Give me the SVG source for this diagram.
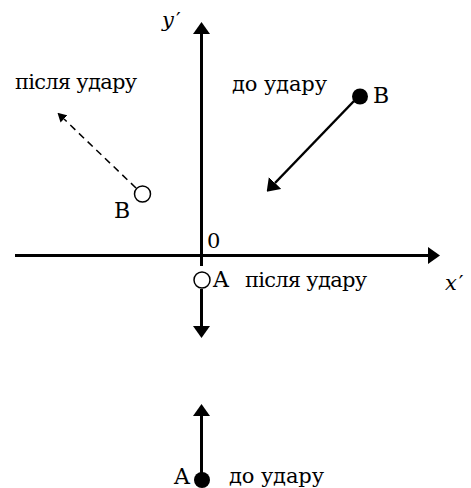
<svg xmlns="http://www.w3.org/2000/svg" width="471" height="488" viewBox="0 0 471 488">
<style>
text{font-family:"DejaVu Serif","Liberation Serif",serif;font-size:21px;fill:#000}
.cap{font-size:22px}
.ax{stroke:#000;stroke-width:3;fill:none}
.v{stroke:#000;stroke-width:2.5;fill:none}
.d{stroke:#000;stroke-width:1.5;fill:none;stroke-dasharray:7,5}
.open{fill:#fff;stroke:#000;stroke-width:1.5}
.fill{fill:#000}
.it{font-style:italic}
.pr{font-style:normal}
</style>
<defs>
<marker id="ah" markerUnits="userSpaceOnUse" markerWidth="12" markerHeight="18" refX="0" refY="8.5" orient="auto" viewBox="0 0 12 17">
<path d="M0,0 L12,8.5 L0,17 Z" fill="#000"/>
</marker>
<marker id="ahs" markerUnits="userSpaceOnUse" markerWidth="9" markerHeight="10" refX="0" refY="5" orient="auto" viewBox="0 0 9 10">
<path d="M0,0 L9,5 L0,10 Z" fill="#000"/>
</marker>
</defs>
<g id="connectors">
<line id="y-axis" class="ax" x1="201.5" y1="266" x2="201.5" y2="34" marker-end="url(#ah)"/>
<line id="x-axis" class="ax" x1="15" y1="255.5" x2="428" y2="255.5" marker-end="url(#ah)"/>
<line id="a-after" class="ax" x1="201.5" y1="289" x2="201.5" y2="326" marker-end="url(#ah)"/>
<line id="a-before" class="ax" x1="201.5" y1="473" x2="201.5" y2="416" marker-end="url(#ah)"/>
<line id="b-before" class="v" x1="354" y1="101" x2="275" y2="183" marker-end="url(#ah)"/>
<line id="b-after" class="d" x1="136" y1="188" x2="64" y2="119" marker-end="url(#ahs)"/>
</g>
<g id="axis-labels">
<text class="it" x="162" y="27">y<tspan class="pr" dx="2">′</tspan></text>
<text class="it" x="445" y="290">x<tspan class="pr" dx="2">′</tspan></text>
<text x="207" y="248">0</text>
</g>
<g id="B-before">
<circle class="fill" cx="360" cy="96.5" r="8"/>
<text class="cap" x="373" y="103">B</text>
<text x="232" y="91" textLength="95">до удару</text>
</g>
<g id="B-after">
<circle class="open" cx="142.5" cy="194" r="8"/>
<text class="cap" x="114" y="218">B</text>
<text x="15" y="89" textLength="122">після удару</text>
</g>
<g id="A-after">
<circle class="open" cx="202" cy="280" r="8"/>
<text class="cap" x="213" y="287">A</text>
<text x="245" y="287" textLength="122">після удару</text>
</g>
<g id="A-before">
<circle class="fill" cx="202" cy="480" r="8"/>
<text class="cap" x="174" y="484">A</text>
<text x="229" y="483" textLength="95">до удару</text>
</g>
</svg>
